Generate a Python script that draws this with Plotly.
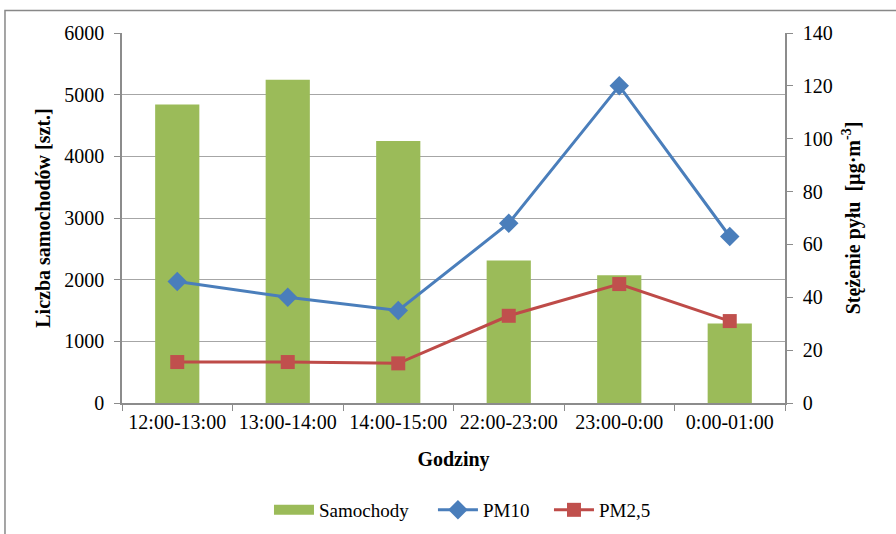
import plotly.graph_objects as go

# Hourly traffic counts and dust concentrations
godziny = ["12:00-13:00", "13:00-14:00", "14:00-15:00",
           "22:00-23:00", "23:00-0:00", "0:00-01:00"]
samochody = [4840, 5240, 4250, 2310, 2070, 1290]
pm10 = [46, 40, 35, 68, 120, 63]
pm25 = [15.5, 15.5, 15, 33, 45, 31]

FONT = "Liberation Serif, Times New Roman, serif"
AXIS_GREY = "#8c8c8c"
GRID_GREY = "#a6a6a6"
GREEN = "#9BBB59"

fig = go.Figure()

fig.add_trace(go.Bar(
    x=godziny, y=samochody, name="Samochody",
    marker=dict(color=GREEN, line=dict(width=0)),
    yaxis="y", showlegend=False,
))
# Wide legend swatch for the bar series
fig.add_trace(go.Scatter(
    x=[None], y=[None], name="Samochody", mode="lines",
    line=dict(color=GREEN, width=11), yaxis="y", legend="legend",
))
fig.add_trace(go.Scatter(
    x=godziny, y=pm10, name="PM10", mode="lines+markers",
    line=dict(color="#4A7EBB", width=3),
    marker=dict(symbol="diamond", size=15, color="#4A7EBB"),
    yaxis="y2", legend="legend2",
))
fig.add_trace(go.Scatter(
    x=godziny, y=pm25, name="PM2,5", mode="lines+markers",
    line=dict(color="#BE4B48", width=3),
    marker=dict(symbol="square", size=14, color="#C0504D"),
    yaxis="y2", legend="legend3",
))

legend_common = dict(
    orientation="h", xanchor="left", yref="container", y=0.045, yanchor="middle",
    font=dict(family=FONT, size=19), itemwidth=40, bgcolor="rgba(0,0,0,0)",
)

fig.update_layout(
    width=896, height=534,
    margin=dict(l=122, r=111, t=32.5, b=131),
    paper_bgcolor="white", plot_bgcolor="white",
    font=dict(family=FONT, size=20, color="#000000"),
    bargap=0.6,
    showlegend=True,
    legend=dict(x=0.2217, **legend_common),
    legend2=dict(x=0.469, **legend_common),
    legend3=dict(x=0.644, **legend_common),
    xaxis=dict(
        type="category",
        showline=True, linecolor=AXIS_GREY, linewidth=1.5,
        ticks="outside", ticklen=6, tickcolor=AXIS_GREY, tickson="boundaries",
        showgrid=False,
        tickfont=dict(family=FONT, size=20),
        title=dict(text="<b>Godziny</b>", font=dict(family=FONT, size=20), standoff=20),
    ),
    yaxis=dict(
        range=[0, 6000], dtick=1000,
        showline=True, linecolor=AXIS_GREY, linewidth=1.5,
        ticks="outside", ticklen=6, tickcolor=AXIS_GREY,
        showgrid=True, gridcolor=GRID_GREY, gridwidth=1.2,
        zeroline=False,
        tickfont=dict(family=FONT, size=20),
        ticklabelstandoff=6,
        title=dict(text="<b>Liczba samochodów [szt.]</b>",
                   font=dict(family=FONT, size=20), standoff=8),
    ),
    yaxis2=dict(
        range=[0, 140], dtick=20, overlaying="y", side="right",
        showline=True, linecolor=AXIS_GREY, linewidth=1.5,
        ticks="outside", ticklen=6, tickcolor=AXIS_GREY,
        showgrid=False, zeroline=False,
        tickfont=dict(family=FONT, size=20),
        ticklabelstandoff=6,
        title=dict(text="<b>Stężenie pyłu  [µg·m<sup>-3</sup>]</b>",
                   font=dict(family=FONT, size=20), standoff=14),
    ),
)

# Outer chart-area frame
fig.add_shape(
    type="rect", xref="paper", yref="paper",
    x0=-0.1765, x1=1.5, y0=-1.0, y1=1.0608,
    line=dict(color="#888888", width=1.5), fillcolor="rgba(0,0,0,0)",
    layer="below",
)

fig.write_html("out.html")
